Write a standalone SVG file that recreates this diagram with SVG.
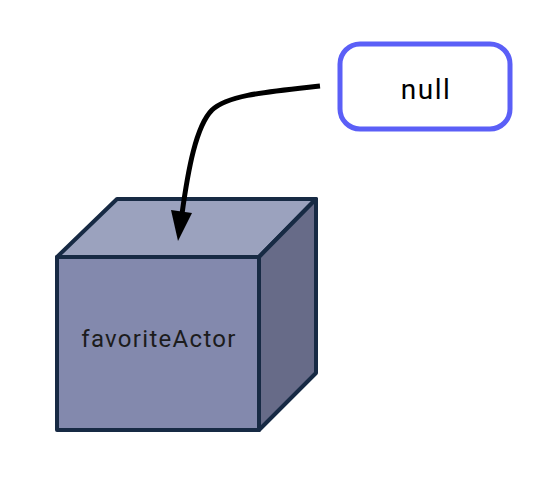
<svg xmlns="http://www.w3.org/2000/svg" width="547" height="500" viewBox="0 0 547 500">
<style>
.edge{stroke:#172a44;stroke-width:4;stroke-linejoin:round}
.top{fill:#9ba2be}
.side{fill:#676b88}
.front{fill:#8389ad}
.lbl{font-family:Roboto,"Liberation Sans",sans-serif;text-anchor:middle}
</style>
<rect width="547" height="500" fill="#fff"/>
<g id="favoriteActor">
<polygon points="57,257 117,199 316,199 259,257" class="edge top"/>
<polygon points="259,257 316,199 316,373 259,430" class="edge side"/>
<rect x="57" y="257" width="202" height="173" class="edge front"/>
<text x="159" y="347" class="lbl" font-size="24" letter-spacing="1.3" fill="#1c1c1c">favoriteActor</text>
</g>
<g id="null">
<rect x="340" y="44" width="170" height="85" rx="20" fill="#fff" stroke="#5b5ff7" stroke-width="5"/>
<text x="426" y="99" class="lbl" font-size="28" letter-spacing="1.5" fill="#000">null</text>
</g>
<g id="connectors">
<path d="M320,86 C265,92 228,95 212,110 C196,126 188,170 182,214" fill="none" stroke="#000" stroke-width="5"/>
<polygon points="171,210 192,213 178,241" fill="#000"/>
</g>
</svg>
